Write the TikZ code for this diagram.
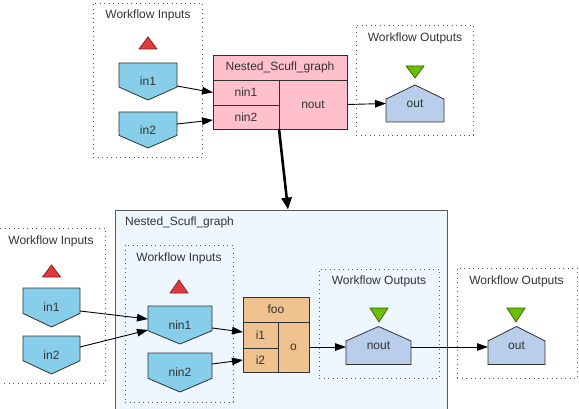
\documentclass[tikz,border=0pt]{standalone}
\usepackage{fontspec}
\setmainfont{Liberation Sans}
\usetikzlibrary{arrows.meta,calc}
\pgfdeclarelayer{back}\pgfdeclarelayer{mid}
\pgfsetlayers{back,mid,main}
\definecolor{txt}{HTML}{333333}
\definecolor{edgec}{HTML}{303030}
\definecolor{dotc}{HTML}{555555}
\definecolor{inblue}{HTML}{87CEEB}
\definecolor{outblue}{HTML}{B8CEEA}
\definecolor{pinkc}{HTML}{FFC0CB}
\definecolor{fooc}{HTML}{F0C28F}
\definecolor{bigc}{HTML}{EEF6FF}
\definecolor{redc}{HTML}{E03A3A}
\definecolor{redd}{HTML}{802020}
\definecolor{greenc}{HTML}{6CBF00}
\definecolor{greend}{HTML}{306000}
\tikzset{
  x=1pt, y=-1pt,
  lbl/.style={font=\fontsize{12}{14}\selectfont, text=txt, inner sep=0pt},
  cluster/.style={draw=dotc, line width=0.9pt, dash pattern=on 0.9pt off 3.6pt, inner sep=0pt},
  portnode/.style={lbl, inner sep=0pt, outer sep=0pt},
  inport/.style={fill=inblue, draw=edgec, line width=0.8pt},
  outport/.style={fill=outblue, draw=edgec, line width=0.8pt},
  recpink/.style={lbl, fill=pinkc, draw=edgec, line width=0.8pt, outer sep=0pt},
  recfoo/.style={lbl, fill=fooc, draw=edgec, line width=0.8pt, outer sep=0pt},
  bigbox/.style={fill=bigc, draw=edgec!80, line width=0.8pt, inner sep=0pt},
  redtri/.style={fill=redc, draw=redd, line width=0.7pt},
  greentri/.style={fill=greenc, draw=greend, line width=0.7pt},
  arr/.style={draw=black, line width=0.9pt, -{Triangle[length=11pt,width=7.5pt]}},
  thickarr/.style={draw=black, line width=2.6pt, -{Triangle[length=12pt,width=10pt]}},
}
\newcommand\inpent[1]{\begin{pgfonlayer}{mid}\draw[inport] (#1.north west) -- (#1.north east) -- ($(#1.south east)!0.35!(#1.north east)$) -- (#1.south) -- ($(#1.south west)!0.35!(#1.north west)$) -- cycle;\end{pgfonlayer}}
\newcommand\outhouse[1]{\begin{pgfonlayer}{mid}\draw[outport] (#1.south west) -- (#1.south east) -- ($(#1.south east)!0.62!(#1.north east)$) -- (#1.north) -- ($(#1.south west)!0.62!(#1.north west)$) -- cycle;\end{pgfonlayer}}
\newcommand\uptri[3]{\begin{pgfonlayer}{mid}\draw[redtri] (#1,#2) -- ++(9,#3) -- ++(-18,0) -- cycle;\end{pgfonlayer}}
\newcommand\downtri[3]{\begin{pgfonlayer}{mid}\draw[greentri] (#1,#2) -- ++(9,-#3) -- ++(-18,0) -- cycle;\end{pgfonlayer}}
\begin{document}
\begin{tikzpicture}
\useasboundingbox (0,0) rectangle (579,409);
% ---------- top ----------
\begin{pgfonlayer}{back}
\node[cluster, minimum width=109pt, minimum height=154pt] (wi1) at (147.5,80) {};
\node[cluster, minimum width=117pt, minimum height=110pt] (wo1) at (414.5,80) {};
\end{pgfonlayer}
\node[lbl] (wi1t) at (148,15) {Workflow Inputs};
\node[lbl] (wo1t) at (415,38) {Workflow Outputs};
\uptri{148}{37}{12}
\node[portnode, minimum width=58pt, minimum height=37pt] (in1) at (148,81.5) {in1};
\inpent{in1}
\node[portnode, minimum width=58pt, minimum height=36pt] (in2) at (148,130) {in2};
\inpent{in2}
% record
\node[recpink, minimum width=134pt, minimum height=25pt] (nsg) at (280,67.5) {Nested\_Scufl\_graph};
\node[recpink, minimum width=66pt, minimum height=25pt] (nsg-nin1) at (246,92.5) {nin1};
\node[recpink, minimum width=66pt, minimum height=24pt] (nsg-nin2) at (246,117) {nin2};
\node[recpink, minimum width=68pt, minimum height=49pt] (nsg-nout) at (313,104.5) {nout};
\downtri{415}{78}{12}
\node[portnode, minimum width=58pt, minimum height=37pt] (out1) at (415,103.5) {out};
\outhouse{out1}
\draw[arr] ([yshift=-4.5pt]in1.east) -- (nsg-nin1.west);
\draw[arr] ([yshift=6pt]in2.east) -- ([yshift=-3pt]nsg-nin2.west);
\draw[arr] (nsg-nout.east) -- (out1.west);
% ---------- bottom ----------
\begin{pgfonlayer}{back}
\node[bigbox, minimum width=332pt, minimum height=220pt] (nsg2) at (281,320) {};
\node[cluster, minimum width=110pt, minimum height=155pt] (wi2) at (50,305.5) {};
\node[cluster, minimum width=108pt, minimum height=157pt] (wi3) at (179,323.5) {};
\node[cluster, minimum width=120pt, minimum height=109pt] (wo2) at (379,323.5) {};
\node[cluster, minimum width=120pt, minimum height=110pt] (wo3) at (517,323) {};
\end{pgfonlayer}
\node[lbl, anchor=west] (nsg2t) at (125,222) {Nested\_Scufl\_graph};
\node[lbl] (wi2t) at (51,241) {Workflow Inputs};
\node[lbl] (wi3t) at (179,258) {Workflow Inputs};
\node[lbl] (wo2t) at (379,281) {Workflow Outputs};
\node[lbl] (wo3t) at (516.5,281) {Workflow Outputs};
\uptri{51.5}{265}{12}
\uptri{179}{280}{13}
\node[portnode, minimum width=57pt, minimum height=39pt] (in1b) at (51.5,307.5) {in1};
\inpent{in1b}
\node[portnode, minimum width=57pt, minimum height=38pt] (in2b) at (51.5,355) {in2};
\inpent{in2b}
\node[portnode, minimum width=64pt, minimum height=38pt] (nin1b) at (180,325) {nin1};
\inpent{nin1b}
\node[portnode, minimum width=64pt, minimum height=39pt] (nin2b) at (180,372.5) {nin2};
\inpent{nin2b}
% foo record
\node[recfoo, minimum width=66pt, minimum height=25pt] (foo) at (276,309.5) {foo};
\node[recfoo, minimum width=35pt, minimum height=26pt] (foo-i1) at (260.5,335) {i1};
\node[recfoo, minimum width=35pt, minimum height=24pt] (foo-i2) at (260.5,360) {i2};
\node[recfoo, minimum width=31pt, minimum height=50pt] (foo-o) at (293.5,347) {o};
\downtri{379}{322}{14}
\node[portnode, minimum width=65pt, minimum height=38pt] (nout) at (378.5,345.5) {nout};
\outhouse{nout}
\downtri{516}{322}{14}
\node[portnode, minimum width=57pt, minimum height=38pt] (out2) at (516.5,345.5) {out};
\outhouse{out2}
\draw[arr] ([yshift=-3.5pt]in1b.east) -- ([yshift=6pt]nin1b.west);
\draw[arr] ([yshift=8pt]in2b.east) -- ([yshift=-5pt]nin1b.west);
\draw[arr] ([yshift=-3pt]nin1b.east) -- ([yshift=3pt]foo-i1.west);
\draw[arr] ([yshift=8.5pt]nin2b.east) -- (foo-i2.west);
\draw[arr] (foo-o.east) -- (foo-o.east -| nout.west);
\draw[arr] ([yshift=-1.5pt]nout.east) -- ([yshift=-1.5pt]out2.west);
% between
\draw[thickarr] (nsg-nin2.south east) -- ([xshift=7pt]nsg2.north);
\end{tikzpicture}
\end{document}
